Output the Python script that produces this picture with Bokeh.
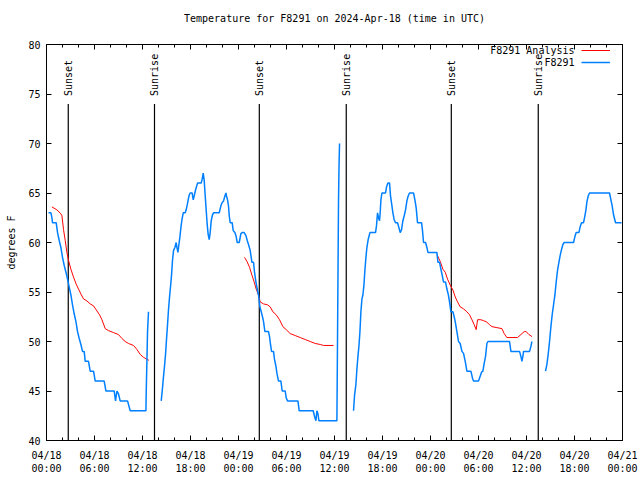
import math
import pandas as pd
from bokeh.plotting import figure
from bokeh.models import (Range1d, LinearAxis, FixedTicker, Legend, LegendItem, Label,
                          CustomLabelingPolicy)
from bokeh.core.properties import value
from bokeh.embed import file_html
from bokeh.resources import INLINE

NAN = float("nan")
START = pd.Timestamp("2024-04-18 00:00")

# ---- observed temperature (F8291), hours since 2024-04-18 00:00 UTC; NaN = gap
obs_hours = [
    0.25, 0.55, 0.68, 0.75, 1.21, 1.38, 1.59, 1.80, 2.00, 2.21, 2.43, 2.63, 2.84, 3.05, 3.25, 3.46,
    3.68, 3.88, 4.09, 4.30, 4.50, 4.71, 4.84, 5.25, 5.46, 5.88, 6.09, 7.21, 7.43, 8.46, 8.63, 8.80,
    9.00, 9.21, 10.13, 10.46, 12.43, 12.46, 12.55, 12.63, 12.75,
    13.5,
    14.34, 14.50, 14.63, 14.75, 14.88, 15.00, 15.13, 15.25, 15.38, 15.50, 15.63, 15.75, 15.88, 16.05,
    16.21, 16.30, 16.43, 16.55, 16.68, 16.80, 16.93, 17.09, 17.34, 17.46, 17.59, 17.71, 17.84, 17.96,
    18.21, 18.34, 18.46, 18.63, 18.88, 19.34, 19.46, 19.59, 19.71, 19.84, 19.96, 20.09, 20.21, 20.34,
    20.46, 20.59, 20.75, 20.88, 21.59, 21.80, 21.93, 22.13, 22.30, 22.43, 22.50, 22.63, 22.75, 22.84,
    22.96, 23.21, 23.34, 23.55, 23.71, 23.84, 24.09, 24.30, 24.46, 24.71, 24.93, 25.09, 25.25, 25.46,
    25.68, 25.88, 26.00, 26.18, 26.34, 26.50, 26.68, 26.84, 27.00, 27.13, 27.30, 27.75, 27.88, 28.00,
    28.13, 28.38, 28.50, 28.68, 28.80, 29.00, 29.30, 29.46, 29.84, 29.96, 30.13, 31.43, 31.59, 33.34,
    33.55, 33.68, 33.80, 33.93, 34.05, 36.30, 36.38, 36.50, 36.56, 36.63,
    37.5,
    38.38, 38.50, 38.68, 38.80, 38.93, 39.05, 39.18, 39.30, 39.43, 39.55, 39.68, 39.80, 39.93, 40.05,
    40.21, 40.43, 41.13, 41.25, 41.38, 41.50, 41.63, 41.71, 41.80, 41.93, 42.38, 42.50, 42.68, 42.88,
    43.00, 43.18, 43.30, 43.46, 43.63, 43.88, 44.05, 44.21, 44.38, 44.55, 44.71, 44.88, 45.05, 45.21,
    45.38, 45.88, 46.05, 46.21, 46.38, 46.88, 47.00, 47.13, 47.38, 47.55, 47.68, 48.80, 48.93, 49.13,
    49.30, 49.46, 49.63, 49.88, 50.05, 50.21, 50.38, 50.55, 50.80, 50.96, 51.09, 51.30, 51.50, 51.71,
    51.93, 52.13, 52.34, 52.55, 53.05, 53.25, 53.38, 54.00, 54.21, 54.38, 54.55, 54.71, 54.88, 55.05,
    55.18, 57.88, 58.05, 59.13, 59.30, 59.43, 59.55, 59.63, 60.38, 60.55, 60.68,
    61.5,
    62.38, 62.55, 62.71, 62.88, 63.05, 63.21, 63.38, 63.55, 63.71, 63.88, 64.05, 64.21, 64.38, 64.55,
    64.71, 65.88, 66.05, 66.21, 66.55, 66.71, 66.88, 67.13, 67.30, 67.43, 67.55, 67.71, 67.88, 70.38,
    70.55, 70.71, 70.88, 71.13, 71.88,
]
obs_temp = [
    63, 63, 62.5, 62, 62, 61, 60.2, 59.5, 58.5, 57.7, 57, 56.3, 55.5, 54.7, 53.7, 52.8,
    52, 51, 50.3, 49.7, 49, 49, 48, 48, 47, 47, 46, 46, 45, 45, 44, 45,
    44.7, 44, 44, 43, 43, 44.7, 48, 51, 53,
    NAN,
    44, 45.3, 46.5, 47.5, 48.7, 50.2, 51.7, 53.2, 54.5, 55.5, 56.7, 58.2, 59.2, 59.5,
    60, 59.5, 59, 59.8, 60.6, 61.5, 62.3, 63, 63, 63.3, 63.8, 64.3, 64.8, 65,
    65, 64.3, 64.7, 65.3, 66, 66, 66.4, 67, 66.3, 64.7, 63.3, 61.8, 60.8, 60.3,
    61, 62.2, 62.8, 63, 63, 63.7, 64, 64.2, 64.7, 65, 64.7, 64.3, 63.7, 62.7,
    62, 62, 61.2, 61, 60.6, 60, 60, 60.9, 61, 61, 60.7, 60.2, 59.8, 59.2,
    58, 58, 57, 56, 55.3, 54.7, 53.5, 53, 52.5, 52, 51, 51, 50.5, 49.7,
    49, 49, 48.2, 47.5, 46.8, 46, 46, 45, 45, 44.3, 44, 44, 43, 43,
    42.3, 42, 43, 42.7, 42, 42, 50.5, 64, 67.5, 70,
    NAN,
    43, 44.5, 45.7, 47.2, 48.5, 49.5, 51, 53, 54.3, 54.7, 55.7, 57.2, 58.5, 59.5,
    60.3, 61, 61, 61.7, 63, 62.5, 62.2, 63, 64.3, 65, 65, 65.6, 66, 66,
    64.7, 63.7, 63, 62.3, 62, 62, 61.5, 61, 61.3, 62.2, 62.7, 63.3, 64.2, 64.7,
    65, 65, 64.3, 63.5, 62, 62, 61.2, 60, 60, 59.5, 59, 59, 58, 58,
    57.3, 56.7, 56, 56, 55.3, 54.8, 54, 53, 53, 52.5, 52, 51, 50, 49.8,
    49, 48.8, 48, 47, 47, 46.3, 46, 46, 46.5, 46.9, 47, 47.8, 48.5, 49.8,
    50, 50, 49, 49, 48.5, 48, 48.5, 49, 49, 49.5, 50,
    NAN,
    47, 47.7, 48.7, 50, 51.5, 52.7, 53.7, 54.7, 56, 57.2, 58, 58.7, 59.3, 59.8,
    60, 60, 60.6, 61, 61, 61.6, 62, 62, 62.7, 63.3, 64.1, 64.7, 65, 65,
    64.3, 63.7, 62.8, 62, 62,
]

# ---- analysis temperature (F8291 Analysis)
ana_hours = [
    0.67, 1.30, 1.80, 1.93, 2.13, 2.34, 2.55, 2.75, 3.05, 3.38, 3.71, 4.00, 4.30, 4.63, 5.05, 5.46,
    5.88, 6.21, 6.63, 6.93, 7.34, 7.75, 8.38, 9.00, 9.43, 9.84, 10.25, 10.88, 11.30, 11.71, 12.13,
    12.55, 12.80,
    18.0,
    24.75, 25.05, 25.38, 25.68, 25.96, 26.21, 26.50, 26.71, 27.13, 27.63, 27.96, 28.30, 28.71, 29.13,
    29.55, 29.96, 30.46, 31.09, 31.71, 32.34, 32.96, 33.59, 34.21, 34.63, 35.88,
    42.0,
    48.80, 49.21, 49.55, 49.84, 50.13, 50.46, 50.80, 51.09, 51.38, 51.71, 52.13, 52.55, 52.88, 53.18,
    53.46, 53.71, 53.88, 54.30, 54.63, 54.96, 55.38, 55.68, 56.30, 56.93, 57.21, 57.55, 58.88, 59.30,
    59.71, 59.96, 60.30, 60.68,
]
ana_temp = [
    63.6, 63.3, 62.9, 62.7, 61.3, 60.2, 59, 58.2, 57.3, 56.5, 55.8, 55.3, 54.8, 54.3, 54.1, 53.8,
    53.6, 53.2, 52.7, 52.2, 51.3, 51.1, 50.9, 50.7, 50.3, 50, 49.8, 49.6, 49.2, 48.7, 48.4,
    48.2, 48.1,
    NAN,
    58.5, 58.1, 57.5, 56.7, 56, 55.3, 54.7, 54, 53.8, 53.7, 53.5, 53, 52.7, 52.2,
    51.5, 51.2, 50.8, 50.6, 50.4, 50.2, 50, 49.8, 49.7, 49.6, 49.6,
    NAN,
    58.8, 58.1, 57.3, 57, 56.3, 55.7, 55.2, 54.5, 54, 53.5, 53.3, 53, 52.7, 52.2,
    51.7, 51.2, 52.2, 52.2, 52.1, 52, 51.7, 51.5, 51.4, 51.3, 50.8, 50.4, 50.4, 50.7,
    51, 51, 50.7, 50.5,
]

# ---- sun events
sun_hours = [2.72, 13.5, 26.6, 37.47, 50.6, 61.47]
sun_names = ["Sunset", "Sunrise", "Sunset", "Sunrise", "Sunset", "Sunrise"]

# ---- axes
tick_hours = [0, 6, 12, 18, 24, 30, 36, 42, 48, 54, 60, 66, 72]
tick_labels = ["04/18\n00:00", "04/18\n06:00", "04/18\n12:00", "04/18\n18:00",
               "04/19\n00:00", "04/19\n06:00", "04/19\n12:00", "04/19\n18:00",
               "04/20\n00:00", "04/20\n06:00", "04/20\n12:00", "04/20\n18:00",
               "04/21\n00:00"]
minor_tick_hours = list(range(0, 73, 2))
y_ticks = [40, 45, 50, 55, 60, 65, 70, 75, 80]

TITLE = "Temperature for F8291 on 2024-Apr-18 (time in UTC)"
FONT = "DejaVu Sans Mono"
BLUE = "#0080ff"
RED = "#ff0000"

T0 = START.value / 1e6  # ms


def to_ms(hours):
    return [T0 + h * 3600000.0 for h in hours]


obs_x = to_ms(obs_hours)
ana_x = to_ms(ana_hours)
sun_x = to_ms(sun_hours)
major_ms = to_ms(tick_hours)
minor_ms = to_ms(minor_tick_hours)

p = figure(width=640, height=480, x_axis_type="datetime",
           x_range=Range1d(T0, T0 + 72 * 3600000.0), y_range=Range1d(40, 80),
           output_backend="svg", toolbar_location=None,
           min_border_left=46, min_border_right=18, min_border_top=40, min_border_bottom=40,
           title=TITLE)

p.grid.visible = False
p.outline_line_color = "black"
p.outline_line_width = 1
p.background_fill_color = "white"
p.border_fill_color = "white"

p.title.text_font = FONT
p.title.text_font_size = "10px"
p.title.text_font_style = "normal"
p.title.align = "center"
p.title.text_color = "black"
p.title.standoff = 20

xa = p.xaxis[0]
xa.ticker = FixedTicker(ticks=major_ms, minor_ticks=minor_ms)
xa.major_label_overrides = {m: lab for m, lab in zip(major_ms, tick_labels)}
ya = p.yaxis[0]
ya.ticker = FixedTicker(ticks=y_ticks, minor_ticks=[])
ya.axis_label = "degrees F"

hide_labels = CustomLabelingPolicy(
    code="for (const i of [...indices]) { indices.unset(i) }\nreturn indices")
top = LinearAxis(ticker=FixedTicker(ticks=major_ms, minor_ticks=minor_ms),
                 major_label_policy=hide_labels)
right = LinearAxis(ticker=FixedTicker(ticks=y_ticks, minor_ticks=[]),
                   major_label_policy=hide_labels)
p.add_layout(top, "above")
p.add_layout(right, "right")

for ax in (xa, ya, top, right):
    ax.axis_line_color = "black"
    ax.major_tick_line_color = "black"
    ax.minor_tick_line_color = "black"
    ax.major_tick_in = 5
    ax.major_tick_out = 0
    ax.minor_tick_in = 3
    ax.minor_tick_out = 0
    ax.major_label_text_font = FONT
    ax.major_label_text_font_size = "10px"
    ax.major_label_text_color = "black"
    ax.axis_label_text_font = FONT
    ax.axis_label_text_font_size = "10px"
    ax.axis_label_text_font_style = "normal"
    ax.axis_label_text_color = "black"

for ax in (top, right):
    ax.major_label_standoff = 0

xa.major_label_standoff = 9
xa.major_label_text_line_height = 1.25
ya.major_label_standoff = 6
ya.axis_label_standoff = 8

# sunrise / sunset markers
p.segment(x0=sun_x, y0=[40] * len(sun_x), x1=sun_x, y1=[74] * len(sun_x),
          line_color="black", line_width=1.2)
p.text(x=sun_x, y=[74.8] * len(sun_x), text=sun_names, angle=math.pi / 2,
       text_align="left", text_baseline="middle", text_font=value(FONT),
       text_font_size="10px", text_color="black")

# data lines
r_ana = p.line(ana_x, ana_temp, line_color=RED, line_width=1)
r_obs = p.line(obs_x, obs_temp, line_color=BLUE, line_width=1.5)

# legend: samples on the right, labels right-aligned to their left (gnuplot style)
leg = Legend(items=[LegendItem(label=" ", renderers=[r_ana]),
                    LegendItem(label=" ", renderers=[r_obs])],
             location=(535, 372), glyph_width=29, glyph_height=12,
             label_width=0, label_height=12, label_standoff=0, padding=0,
             spacing=0, margin=0, border_line_color=None,
             background_fill_alpha=0, label_text_font_size="10px",
             label_text_font=FONT)
p.add_layout(leg)
for i, name in enumerate(["F8291 Analysis", "F8291"]):
    p.add_layout(Label(x=528, y=390 - 12 * i, x_units="screen", y_units="screen",
                       text=name, text_align="right", text_baseline="middle",
                       text_font=FONT, text_font_size="10px", text_color="black"))

open("out.html", "w").write(file_html(p, INLINE))
